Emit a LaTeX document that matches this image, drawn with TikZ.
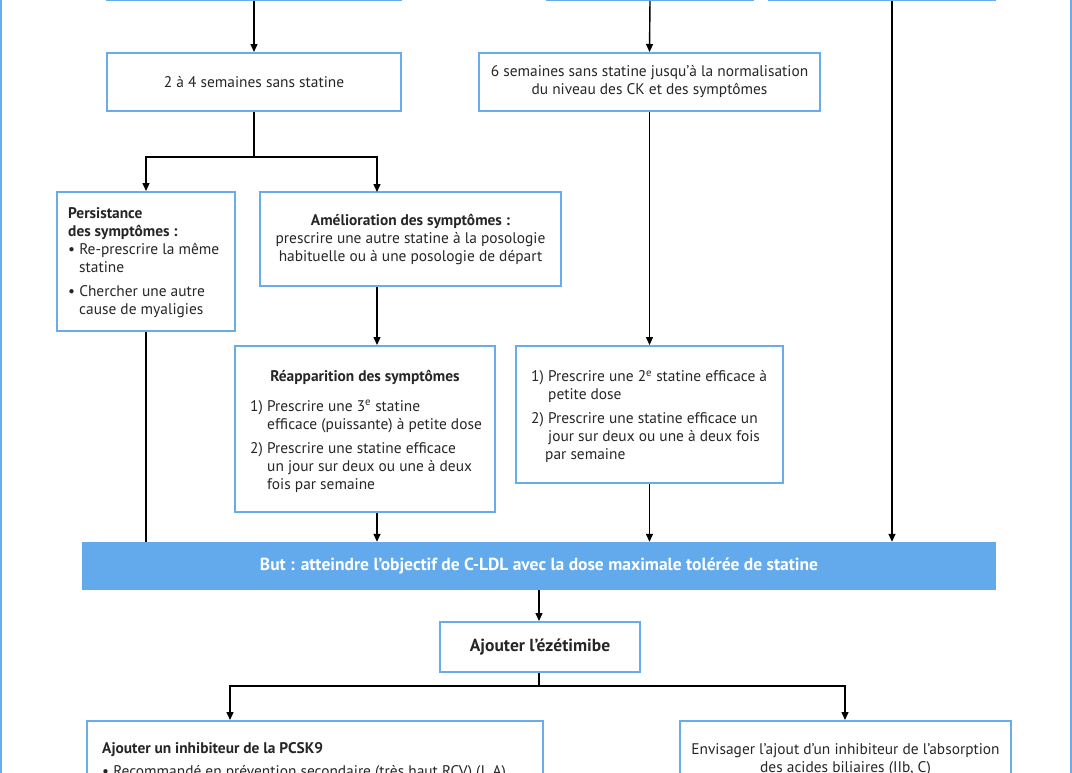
\documentclass[tikz,border=0pt]{standalone}
\usepackage{fontspec}
\setmainfont{PT Sans}
\usetikzlibrary{arrows.meta,calc}
\definecolor{boxblue}{RGB}{104,172,236}
\definecolor{barblue}{RGB}{98,170,236}
\begin{document}
\begin{tikzpicture}[x=1pt,y=-1pt,
  box/.style={draw=boxblue,line width=2pt,rectangle,inner sep=0pt,font=\fontsize{15.4}{18}\selectfont,text=black!85},
  txt/.style={inner sep=0pt,font=\fontsize{15.4}{18}\selectfont,text=black!85},
  arr/.style={line width=1.4pt,-{Triangle[length=8pt,width=7pt]}},
  ln/.style={line width=1.4pt}]
\useasboundingbox (0,0) rectangle (1072,772);
\clip (0,0) rectangle (1072,772);
% outer frame
\draw[boxblue,line width=2.5pt] (1,-10) -- (1,790);
\draw[boxblue,line width=2.5pt] (1071,-10) -- (1071,790);
% top (cut) boxes
\node[box,minimum width=294pt,minimum height=60pt] (t1) at (254,-30) {};
\node[box,minimum width=206pt,minimum height=60pt] (t2) at (650,-30) {};
\node[box,minimum width=226pt,minimum height=60pt] (t3) at (882,-30) {};
% row 2
\node[box,minimum width=294pt,minimum height=58pt] (b24) at (254,82) {2 à 4 semaines sans statine};
\node[box,minimum width=341pt,minimum height=58pt,align=center] (six) at (649.5,82) {6 semaines sans statine jusqu'à la normalisation\\du niveau des CK et des symptômes};
% row 3
\node[box,minimum width=178pt,minimum height=139pt] (pers) at (146,261.5) {};
\node[txt,align=left,anchor=west] (perstxt) at ([xshift=12pt,yshift=-1.5pt]pers.west)
 {\textbf{Persistance}\\\textbf{des symptômes :}\\• Re-prescrire la même\\\hspace*{11pt}statine\\[6pt]• Chercher une autre\\\hspace*{11pt}cause de myaligies};
\node[box,minimum width=301pt,minimum height=94pt,align=center] (amel) at (410.5,239)
 {\textbf{Amélioration des symptômes :}\\prescrire une autre statine à la posologie\\habituelle ou à une posologie de départ};
% row 4
\node[box,minimum width=260pt,minimum height=166pt] (reap) at (365,429) {};
\node[txt,align=center,anchor=base] (reaptitle) at (365,381) {\textbf{Réapparition des symptômes}};
\node[txt,align=left,anchor=north west] (reaptxt) at (250,400)
 {1) Prescrire une 3\textsuperscript{e} statine\\\hspace*{17pt}efficace (puissante) à petite dose\\[6pt]2) Prescrire une statine efficace\\\hspace*{17pt}un jour sur deux ou une à deux\\\hspace*{17pt}fois par semaine};
\node[box,minimum width=267pt,minimum height=137pt] (rbox) at (649.5,414.5) {};
\node[txt,align=left,anchor=west] (rtxt) at ([xshift=16pt,yshift=-2pt]rbox.west)
 {1) Prescrire une 2\textsuperscript{e} statine efficace à\\\hspace*{17pt}petite dose\\[6pt]2) Prescrire une statine efficace un\\\hspace*{17pt}jour sur deux ou une à deux fois\\\hspace*{14pt}par semaine};
% bar
\node[fill=barblue,minimum width=914pt,minimum height=48pt,inner sep=0pt,text=white,font=\fontsize{17.5}{18}\selectfont\bfseries] (bar) at (539,566) {But : atteindre l'objectif de C-LDL avec la dose maximale tolérée de statine};
% ezetimibe
\node[box,minimum width=200pt,minimum height=50pt,font=\fontsize{17.5}{18}\selectfont\bfseries] (ez) at (540,647) {Ajouter l'ézétimibe};
% bottom boxes
\node[box,minimum width=456pt,minimum height=100pt,anchor=north] (pcsk) at (315,720) {};
\node[txt,anchor=north west,align=left] (pcsktxt) at (102,742)
 {\textbf{Ajouter un inhibiteur de la PCSK9}\\[5pt]• Recommandé en prévention secondaire (très haut RCV) (I, A)};
\node[box,minimum width=331pt,minimum height=100pt,anchor=north] (acid) at (845.5,720) {};
\node[txt,anchor=north,align=center] (acidtxt) at (845.5,743)
 {Envisager l'ajout d'un inhibiteur de l'absorption\\des acides biliaires (IIb, C)};
% coordinates
\coordinate (s1) at (254,157);
\coordinate (s2) at (539,686);
% connectors
\draw[arr] (t1.south) -- (b24.north);
\draw[arr] (t2.south) -- (six.north);
\draw[arr] ([xshift=10pt]t3.south) -- ([xshift=10pt]t3.south |- bar.north);
\draw[ln] (b24.south) -- (s1);
\draw[arr] (s1) -| (pers.north);
\draw[arr] (s1) -| (377,192);
\draw[ln] (pers.south) -- (pers.south |- bar.north);
\draw[arr] (amel.south -| 377,0) -- (reap.north -| 377,0);
\draw[arr] (six.south) -- (rbox.north);
\draw[arr] (reap.south -| 377,0) -- (bar.north -| 377,0);
\draw[arr] (rbox.south) -- (rbox.south |- bar.north);
\draw[arr] (bar.south) -- (ez.north -| bar.south);
\draw[ln] (ez.south -| s2) -- (s2);
\draw[arr] (s2) -| (pcsk.north -| 230,0);
\draw[arr] (s2) -| (acid.north -| 845,0);
\end{tikzpicture}
\end{document}
